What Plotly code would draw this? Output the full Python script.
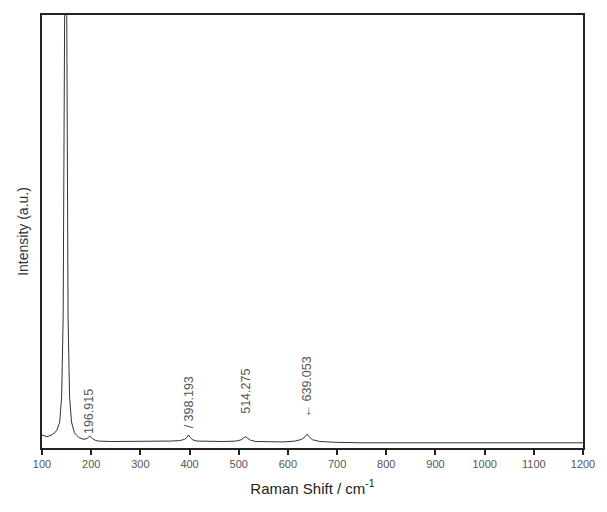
import plotly.graph_objects as go

# Raman spectrum (main peak clipped at top)
shift = [100, 110, 120, 130, 136, 140, 143, 145, 147, 148, 149, 151, 153, 156, 160, 166,
         175, 185, 192, 197, 202, 208, 215, 240, 280, 320, 360, 380, 390, 395, 398, 401,
         406, 415, 440, 470, 495, 505, 510, 514, 518, 524, 535, 560, 590, 615, 628, 635,
         639, 643, 650, 665, 700, 750, 800, 900, 1000, 1100, 1200]
intensity = [3.0, 2.6, 3.0, 4.0, 6, 12, 30, 80, 135, 145, 135, 70, 30, 12, 6, 3.5,
             2.4, 2.0, 2.2, 2.8, 2.2, 1.8, 1.6, 1.5, 1.5, 1.5, 1.6, 1.7, 2.0, 2.5, 3.0, 2.5,
             1.9, 1.6, 1.5, 1.5, 1.6, 1.9, 2.3, 2.6, 2.3, 1.8, 1.5, 1.4, 1.4, 1.6, 2.0, 2.6,
             3.2, 2.6, 1.9, 1.5, 1.3, 1.2, 1.2, 1.2, 1.2, 1.2, 1.2]

peak_x = [196.915, 398.193, 514.275, 639.053]
peak_labels = ["196.915", "/ 398.193", "514.275", "\u2190 639.053"]
peak_label_y = [2.8, 4.0, 7.5, 6.5]

tick_vals = [100, 200, 300, 400, 500, 600, 700, 800, 900, 1000, 1100, 1200]
tick_text = [str(v) for v in tick_vals]

fig = go.Figure()
fig.add_trace(go.Scatter(x=shift, y=intensity, mode="lines",
                         line=dict(color="#333333", width=1), showlegend=False))

for px, lab, ly in zip(peak_x, peak_labels, peak_label_y):
    fig.add_annotation(x=px, y=ly, text=lab, textangle=-90, showarrow=False,
                       xanchor="center", yanchor="bottom",
                       font=dict(family="Liberation Sans, Arial", size=12.5, color="#555555"))

fig.update_xaxes(range=[100, 1200], tickvals=tick_vals, ticktext=tick_text,
                 ticks="outside", ticklen=5, tickwidth=1.5, tickcolor="#222222",
                 showline=True, linecolor="#222222", linewidth=2, mirror=True,
                 showgrid=False, zeroline=False,
                 tickfont=dict(family="Liberation Sans, Arial", size=11, color="#555555"),
                 title=dict(text="Raman Shift / cm<sup>-1</sup>", standoff=14,
                            font=dict(family="Liberation Sans, Arial", size=15, color="#222222")))
fig.update_yaxes(range=[0, 100], showticklabels=False, ticks="",
                 showline=True, linecolor="#222222", linewidth=2, mirror=True,
                 showgrid=False, zeroline=False,
                 title=dict(text="Intensity (a.u.)", standoff=8,
                            font=dict(family="Liberation Sans, Arial", size=14, color="#333333")))

fig.update_layout(width=607, height=512, margin=dict(l=42, r=15, t=15, b=64),
                  plot_bgcolor="white", paper_bgcolor="white")

fig.write_html("out.html")
